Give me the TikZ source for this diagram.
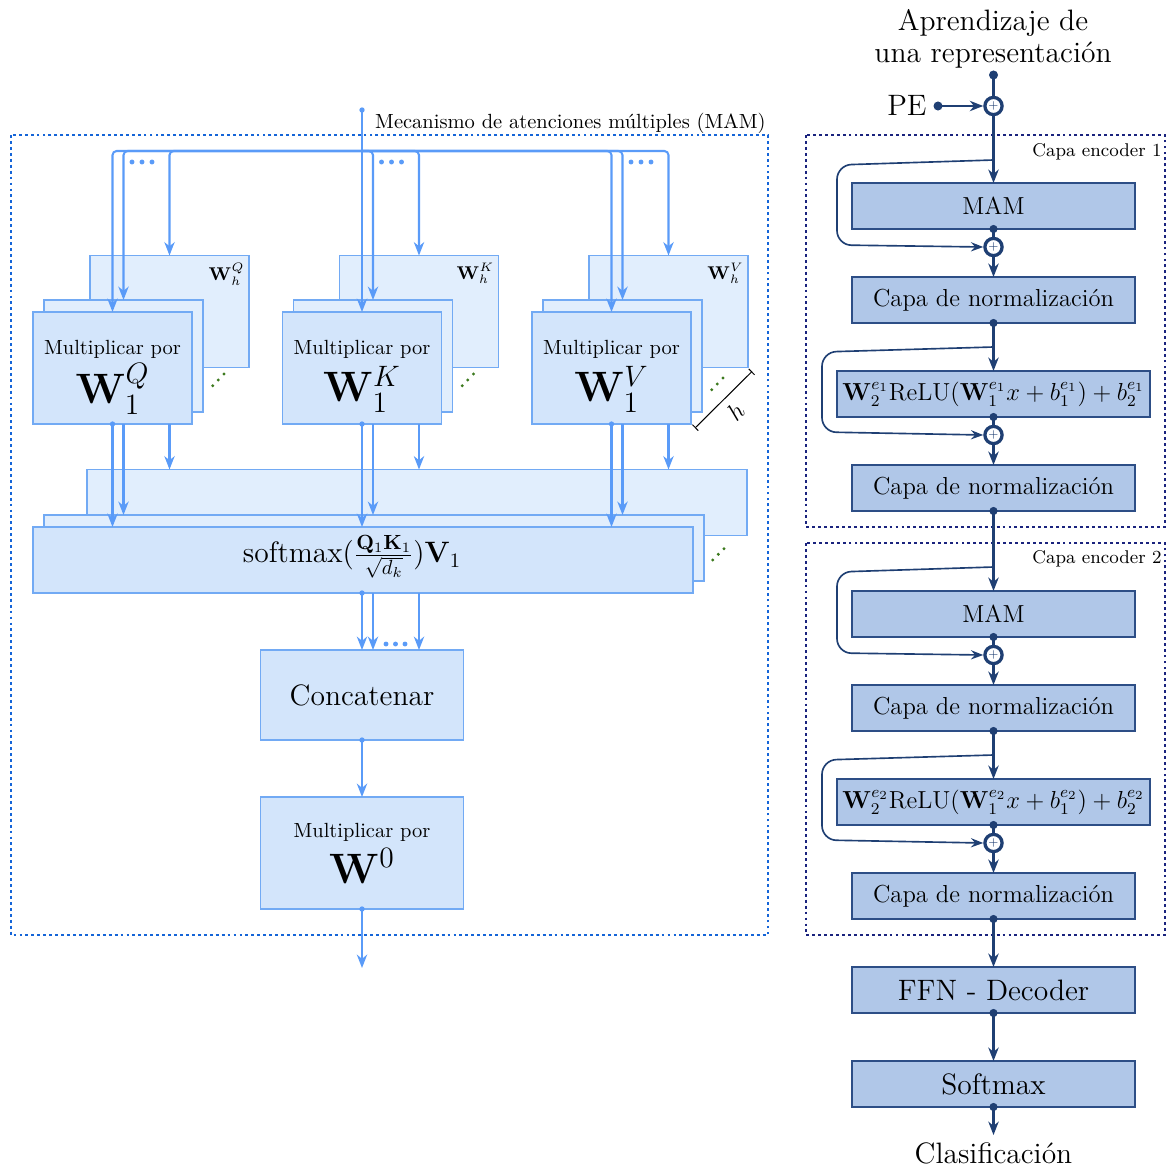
\documentclass[tikz,border=0pt]{standalone}
\usepackage{amsmath}
\usetikzlibrary{arrows.meta,calc}
\def\pxu{0.4878pt}
\definecolor{lcol}{HTML}{5A9BF8}
\definecolor{lbord}{HTML}{72AAF4}
\definecolor{lfrontc}{HTML}{D3E5FB}
\definecolor{lbackc}{HTML}{E1EEFD}
\definecolor{lframec}{HTML}{1565D8}
\definecolor{gdot}{HTML}{3D7A1F}
\definecolor{ncol}{HTML}{1F3F73}
\definecolor{nbord}{HTML}{2D4E86}
\definecolor{nfill}{HTML}{B0C7E8}
\definecolor{nframec}{HTML}{1A237E}
\begin{document}
\begin{tikzpicture}[x=\pxu,y=-\pxu,
 lbx/.style={draw=lbord, line width=0.6pt, inner sep=0pt, outer sep=0pt, minimum width=159*\pxu, minimum height=112*\pxu},
 lfr/.style={lbx, fill=lfrontc},
 lbk/.style={lbx, fill=lbackc},
 lln/.style={draw=lcol, line width=1pt},
 larr/.style={lln, -{Stealth[length=6.5pt,width=5pt,inset=2pt]}},
 lframe/.style={draw=lframec, line width=1.4pt, dash pattern=on 1.4pt off 1.5pt},
 nbx/.style={draw=nbord, fill=nfill, line width=0.7pt, inner sep=0pt, outer sep=0pt, minimum width=283*\pxu, minimum height=46*\pxu, font=\large},
 nwide/.style={nbx, minimum width=313*\pxu},
 nln/.style={draw=ncol, line width=1.2pt},
 narr/.style={nln, -{Stealth[length=6.5pt,width=5pt,inset=2pt]}},
 nres/.style={draw=ncol, line width=0.8pt, rounded corners=7pt, -{Stealth[length=6pt,width=4.5pt,inset=2pt]}},
 nframe/.style={draw=nframec, line width=1.4pt, dash pattern=on 1.4pt off 1.5pt},
 addn/.style={circle, draw=ncol, fill=white, line width=1.6pt, inner sep=0pt, minimum size=8.4pt, text=ncol, font=\fontsize{5}{5}\selectfont},
]
\useasboundingbox (0,0) rectangle (1167,1169);

% ---------------- left: MAM ----------------
\draw[lframe] (11,135) rectangle (768,935);
\node[anchor=base east, inner sep=0pt] (mamlabel) at (766,128) {Mecanismo de atenciones múltiples (MAM)};

\foreach \n/\dx/\L/\dy in {q/0/Q/0, k/249.5/K/0, v/499/V/4}{
  \node[lbk] (\n-b) at (169.5+\dx,311.5) {};
  \node[lbk] (\n-m) at (123.5+\dx,356) {};
  \node[lfr] (\n-f) at (112.5+\dx,368) {};
  \node (\n-t1) at (112.5+\dx,349) {Multiplicar por};
  \node (\n-t2) at (112.5+\dx,389) {\huge$\mathbf{W}_1^{\L}$};
  \node[anchor=north east, inner sep=2pt, font=\small] (\n-wh) at ($(\n-b.north east)+(0,3)$) {$\mathbf{W}_h^{\L}$};
  \foreach \gx/\gy in {212.7/385.7, 218.3/380, 224/374}{
    \fill[gdot] (\gx+\dx,\gy+\dy) circle (0.8pt);
  }
  \foreach \bx in {132,142,152}{
    \fill[lcol] (\bx+\dx,162) circle (1.2pt);
  }
}

\node[lbk, minimum width=660*\pxu, minimum height=66*\pxu] (s-b) at (417,502.5) {};
\node[lbk, minimum width=660*\pxu, minimum height=66*\pxu] (s-m) at (374,548) {};
\node[lfr, minimum width=660*\pxu, minimum height=66*\pxu] (s-f) at (363,560) {};
\node[font=\Large] (s-t) at (352,557) {softmax$(\frac{\mathbf{Q}_1\mathbf{K}_1}{\sqrt{d_k}})\mathbf{V}_1$};
\foreach \gx/\gy in {712.7/560, 718.3/554.3, 724/548.7}{
  \fill[gdot] (\gx,\gy) circle (0.8pt);
}

\node[lfr, minimum width=203*\pxu, minimum height=90*\pxu, font=\Large] (cat) at (362,695) {Concatenar};
\node[lfr, minimum width=203*\pxu, minimum height=112*\pxu] (w0) at (362,853) {};
\node (w0-t1) at (362,832) {Multiplicar por};
\node (w0-t2) at (362,866) {\huge$\mathbf{W}^{0}$};

% connectors
\coordinate (in) at (362,110);
\coordinate (hub) at (362,151);
\coordinate (out) at (362,968);
\draw[larr] (in) -- (k-f.north);
\fill[lcol] (in) circle (1.3pt);
\draw[larr, rounded corners=2pt] (hub) -| (q-f.north);
\draw[larr, rounded corners=2pt] (hub) -| (v-f.north);
\foreach \n in {q,k,v}{
  \draw[larr, rounded corners=2pt] (hub) -| (\n-m.north);
  \draw[larr, rounded corners=2pt] (hub) -| (\n-b.north);
  \draw[larr] (\n-f.south) -- (\n-f |- s-f.north);
  \draw[larr] (\n-m |- \n-f.south) -- (\n-m |- s-m.north);
  \draw[larr] (\n-b |- \n-f.south) -- (\n-b |- s-b.north);
  \fill[lcol] (\n-f.south) circle (1.3pt);
}
\draw[larr] (k-f |- s-f.south) -- (k-f |- cat.north);
\draw[larr] (k-m |- s-f.south) -- (k-m |- cat.north);
\draw[larr] (k-b |- s-f.south) -- (k-b |- cat.north);
\fill[lcol] (k-f |- s-f.south) circle (1.3pt);
\foreach \bx in {386,395.5,405}{
  \fill[lcol] (\bx,644) circle (1.2pt);
}
\draw[larr] (cat.south) -- (w0.north);
\fill[lcol] (cat.south) circle (1.3pt);
\draw[larr] (w0.south) -- (out);
\fill[lcol] (w0.south) circle (1.3pt);

\draw[line width=0.5pt, {Bar[width=4pt]}-{Bar[width=4pt]}] ($(v-f.south east)+(4,4)$) -- ($(v-b.south east)+(4,4)$) node[midway, sloped, below, font=\large, inner sep=4pt] (hlab) {$h$};

% ---------------- right: encoder ----------------
\node[font=\fontsize{14.4}{15.5}\selectfont, align=center] (title) at (993,39) {Aprendizaje de\\una representación};
\coordinate (inR) at (993.5,75);
\node[addn] (a0) at (993.5,106) {$+$};
\node[font=\Large, anchor=east, inner sep=0pt] (pe) at (927,105) {PE};
\coordinate (ped) at (938,106);

\draw[nframe] (806,135) rectangle (1165,527);
\node[font=\small, anchor=east, inner sep=0pt] (enc1) at (1162,152) {Capa encoder 1};
\node[nbx] (mam1) at (993.5,206) {MAM};
\node[addn] (a1) at (993.5,247) {$+$};
\node[nbx] (n1a) at (993.5,300) {Capa de normalización};
\node[nwide] (f1) at (993.5,394) {$\mathbf{W}_2^{e_1}\mathrm{ReLU}(\mathbf{W}_1^{e_1}x+b_1^{e_1})+b_2^{e_1}$};
\node[addn] (a2) at (993.5,435) {$+$};
\node[nbx] (n1b) at (993.5,488) {Capa de normalización};

\draw[nframe] (806,543) rectangle (1165,935);
\node[font=\small, anchor=east, inner sep=0pt] (enc2) at (1162,559) {Capa encoder 2};
\node[nbx] (mam2) at (993.5,614) {MAM};
\node[addn] (a3) at (993.5,655) {$+$};
\node[nbx] (n2a) at (993.5,708) {Capa de normalización};
\node[nwide] (f2) at (993.5,802) {$\mathbf{W}_2^{e_2}\mathrm{ReLU}(\mathbf{W}_1^{e_2}x+b_1^{e_2})+b_2^{e_2}$};
\node[addn] (a4) at (993.5,843) {$+$};
\node[nbx] (n2b) at (993.5,896) {Capa de normalización};

\node[nbx, font=\Large] (dec) at (993.5,990) {FFN - Decoder};
\node[nbx, font=\Large] (smx) at (993.5,1084) {Softmax};
\node[font=\Large] (clas) at (993.5,1153) {Clasificación};

\draw[nln] (inR) -- (a0.north);
\fill[ncol] (inR) circle (2.2pt);
\draw[narr] (ped) -- (a0.west);
\fill[ncol] (ped) circle (2.2pt);
\draw[narr] (a0.south) -- (mam1.north);
\coordinate (r1) at (993.5,160);
\draw[nres] (r1) -- (837,165) -- (837,245) -- (a1.west);
\draw[nln] (mam1.south) -- (a1.north);
\draw[narr] (a1.south) -- (n1a.north);
\draw[narr] (n1a.south) -- (f1.north);
\coordinate (r2) at (993.5,347);
\draw[nres] (r2) -- (822,352) -- (822,432) -- (a2.west);
\draw[nln] (f1.south) -- (a2.north);
\draw[narr] (a2.south) -- (n1b.north);
\draw[narr] (n1b.south) -- (mam2.north);
\coordinate (r3) at (993.5,567);
\draw[nres] (r3) -- (837,572) -- (837,653) -- (a3.west);
\draw[nln] (mam2.south) -- (a3.north);
\draw[narr] (a3.south) -- (n2a.north);
\draw[narr] (n2a.south) -- (f2.north);
\coordinate (r4) at (993.5,755);
\draw[nres] (r4) -- (822,760) -- (822,840) -- (a4.west);
\draw[nln] (f2.south) -- (a4.north);
\draw[narr] (a4.south) -- (n2b.north);
\draw[narr] (n2b.south) -- (dec.north);
\draw[narr] (dec.south) -- (smx.north);
\draw[narr] (smx.south) -- (clas.north);
\foreach \p in {mam1,n1a,f1,n1b,mam2,n2a,f2,n2b,dec,smx}{
  \fill[ncol] (\p.south) circle (2pt);
}
\end{tikzpicture}
\end{document}
